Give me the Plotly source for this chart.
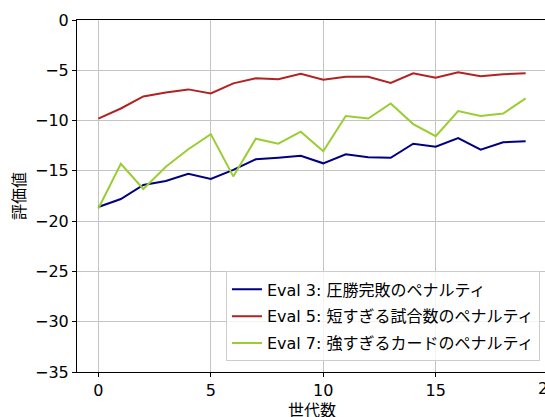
import plotly.graph_objects as go

generations = list(range(20))

eval3_crushing = [-18.6, -17.8, -16.4, -16.0, -15.3, -15.8, -14.9, -13.85, -13.7, -13.5,
                  -14.25, -13.35, -13.65, -13.7, -12.3, -12.6, -11.75, -12.9, -12.15, -12.05]
eval5_short = [-9.8, -8.8, -7.6, -7.2, -6.9, -7.3, -6.3, -5.8, -5.9, -5.35,
               -5.95, -5.65, -5.65, -6.25, -5.3, -5.75, -5.2, -5.6, -5.4, -5.3]
eval7_strong = [-18.75, -14.3, -16.8, -14.6, -12.85, -11.35, -15.55, -11.8, -12.3, -11.1,
                -13.05, -9.55, -9.8, -8.3, -10.35, -11.55, -9.05, -9.55, -9.3, -7.8]

series_names = [
    "Eval 3: 圧勝完敗のペナルティ",
    "Eval 5: 短すぎる試合数のペナルティ",
    "Eval 7: 強すぎるカードのペナルティ",
]
series_values = [eval3_crushing, eval5_short, eval7_strong]
series_colors = ["#000080", "#b22222", "#9acd32"]

x_label = "世代数"
y_label = "評価値"

x_range = [-0.95, 19.95]
x_ticks = [0, 5, 10, 15, 20]
y_ticks = [0, -5, -10, -15, -20, -25, -30, -35]

FONT = "DejaVu Sans, Noto Sans CJK JP, sans-serif"
FS = 16

fig = go.Figure()
for i, (name, vals, col) in enumerate(zip(series_names, series_values, series_colors)):
    fig.add_trace(go.Scatter(
        x=generations, y=vals, mode="lines", name=name,
        line=dict(color=col, width=2), legendgroup=f"g{i}",
    ))

axis_common = dict(
    showline=True, linecolor="black", linewidth=1, mirror=True,
    ticks="outside", ticklen=4, tickwidth=1, tickcolor="black",
    showgrid=True, gridcolor="#c4c4c4", gridwidth=1, zeroline=False,
    tickfont=dict(family=FONT, size=FS, color="black"),
    automargin=False,
)

fig.update_layout(
    width=548, height=417,
    margin=dict(l=77, r=1, t=20, b=45),
    paper_bgcolor="white", plot_bgcolor="white",
    font=dict(family=FONT, size=FS, color="black"),
    xaxis=dict(range=x_range, tickvals=x_ticks, **axis_common),
    yaxis=dict(range=[-35, 0], tickvals=y_ticks,
               title=dict(text=y_label, font=dict(family=FONT, size=FS), standoff=5),
               **axis_common),
    legend=dict(
        x=0.985, y=0.03, xanchor="right", yanchor="bottom",
        bgcolor="rgba(255,255,255,0.8)", bordercolor="#cccccc", borderwidth=1,
        font=dict(family=FONT, size=FS), traceorder="grouped", tracegroupgap=3,
    ),
    showlegend=True,
)

# x-axis title sits just below the tick labels, at the figure's bottom edge
fig.add_annotation(
    x=0.5, xref="paper", xanchor="center",
    y=0, yref="paper", yanchor="top", yshift=-27,
    text=x_label, showarrow=False,
    font=dict(family=FONT, size=FS, color="black"),
)

# the last tick (20) lies just past the axis range; draw its label at the
# matching paper position so it shows at the figure's edge
for t in x_ticks:
    if t > x_range[1]:
        fig.add_annotation(
            x=(t - x_range[0]) / (x_range[1] - x_range[0]), xref="paper",
            xanchor="center",
            y=0, yref="paper", yanchor="top", yshift=-5,
            text=str(t), showarrow=False,
            font=dict(family=FONT, size=FS, color="black"),
        )

fig.write_html("out.html", post_script="document.body.style.overflow='hidden';")
